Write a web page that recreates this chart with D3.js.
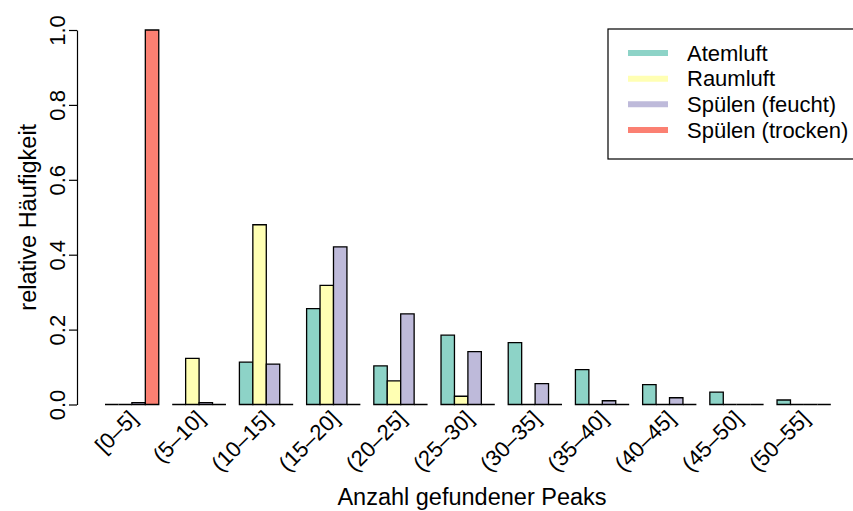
<!DOCTYPE html>
<html>
<head>
<meta charset="utf-8">
<script src="https://cdn.jsdelivr.net/npm/d3@7"></script>
<style>
  html, body { margin: 0; padding: 0; background: #fff; }
  svg { display: block; }
  text { font-family: "Liberation Sans", Arial, sans-serif; fill: #000; }
</style>
</head>
<body>
<svg id="chart" width="853" height="511"></svg>
<script>
// Peak-count bins (x categories)
const bins = ["[0–5]", "(5–10]", "(10–15]", "(15–20]", "(20–25]", "(25–30]",
              "(30–35]", "(35–40]", "(40–45]", "(45–50]", "(50–55]"];

// Series names and colours
const seriesNames = ["Atemluft", "Raumluft", "Spülen (feucht)", "Spülen (trocken)"];
const seriesColors = ["#8DD3C7", "#FFFFB3", "#BEBADA", "#FB8072"];

// Relative frequencies per bin, one array per series
const atemluft   = [0, 0, 0.113, 0.256, 0.103, 0.185, 0.165, 0.093, 0.053, 0.033, 0.012];
const raumluft   = [0, 0.123, 0.48, 0.318, 0.063, 0.022, 0, 0, 0, 0, 0];
const spuelenF   = [0.005, 0.005, 0.108, 0.421, 0.242, 0.141, 0.056, 0.010, 0.018, 0, 0];
const spuelenT   = [1.0, 0, 0, 0, 0, 0, 0, 0, 0, 0, 0];

const yTicks = [0, 0.2, 0.4, 0.6, 0.8, 1.0];

const series = [atemluft, raumluft, spuelenF, spuelenT];

const svg = d3.select("#chart");
const fontSize = 22;
const titleSize = 23.5;

// Scales
const x0 = d3.scaleBand()
  .domain(bins)
  .range([105, 830.8])
  .paddingInner(0.2)
  .paddingOuter(0);

const x1 = d3.scaleBand()
  .domain(d3.range(seriesNames.length))
  .range([0, x0.bandwidth()])
  .padding(0);

const y = d3.scaleLinear().domain([0, 1]).range([404.5, 30]);

// Bars (drawn as paths so zero-height bars still show their outline)
const groups = svg.append("g")
  .selectAll("g")
  .data(bins)
  .join("g")
  .attr("transform", d => `translate(${x0(d)},0)`);

groups.selectAll("path")
  .data((d, gi) => series.map((s, si) => ({ si, v: s[gi] })))
  .join("path")
  .attr("d", d => {
    const p = d3.path();
    const top = y(d.v);
    p.rect(x1(d.si), top, x1.bandwidth(), y(0) - top);
    return p.toString();
  })
  .attr("fill", d => seriesColors[d.si])
  .attr("stroke", "#000")
  .attr("stroke-width", 1.3);

// Y axis
const yAxis = d3.axisLeft(y)
  .tickValues(yTicks)
  .tickFormat(d3.format(".1f"))
  .tickSize(8)
  .tickSizeOuter(0);

const ya = svg.append("g")
  .attr("transform", "translate(77,0)")
  .call(yAxis);
ya.select(".domain").attr("stroke", "#000").attr("stroke-width", 1.2);
ya.selectAll(".tick line").attr("stroke", "#000").attr("stroke-width", 1.2);
ya.selectAll(".tick text")
  .attr("font-size", fontSize)
  .attr("font-family", "Liberation Sans, Arial, sans-serif")
  .attr("text-anchor", "middle")
  .attr("x", 0)
  .attr("dy", 0)
  .attr("transform", "translate(-12,0) rotate(-90)");

// X category labels, rotated 45°
svg.append("g")
  .selectAll("text")
  .data(bins)
  .join("text")
  .attr("transform", d => `translate(${x0(d) + x0.bandwidth() / 2 + 7},${420}) rotate(-45)`)
  .attr("text-anchor", "end")
  .attr("font-size", fontSize)
  .text(d => d);

// Axis titles
svg.append("text")
  .attr("x", 472)
  .attr("y", 505)
  .attr("text-anchor", "middle")
  .attr("font-size", titleSize)
  .text("Anzahl gefundener Peaks");

svg.append("text")
  .attr("transform", `translate(36,${(y(0) + y(1)) / 2}) rotate(-90)`)
  .attr("text-anchor", "middle")
  .attr("font-size", titleSize)
  .text("relative Häufigkeit");

// Legend
const legend = svg.append("g").attr("transform", "translate(608,29)");
legend.append("rect")
  .attr("x", 0).attr("y", 0)
  .attr("width", 260).attr("height", 130)
  .attr("fill", "#fff")
  .attr("stroke", "#000")
  .attr("stroke-width", 1.2);

const rowY = d3.scaleLinear().domain([0, 3]).range([24, 101]);
const items = legend.selectAll("g.item")
  .data(seriesNames)
  .join("g")
  .attr("class", "item")
  .attr("transform", (d, i) => `translate(0,${rowY(i)})`);

items.append("line")
  .attr("x1", 20).attr("x2", 60)
  .attr("y1", 0).attr("y2", 0)
  .attr("stroke", (d, i) => seriesColors[i])
  .attr("stroke-width", 6);

items.append("text")
  .attr("x", 79)
  .attr("y", 0)
  .attr("dy", "0.35em")
  .attr("font-size", fontSize)
  .text(d => d);
</script>
</body>
</html>
